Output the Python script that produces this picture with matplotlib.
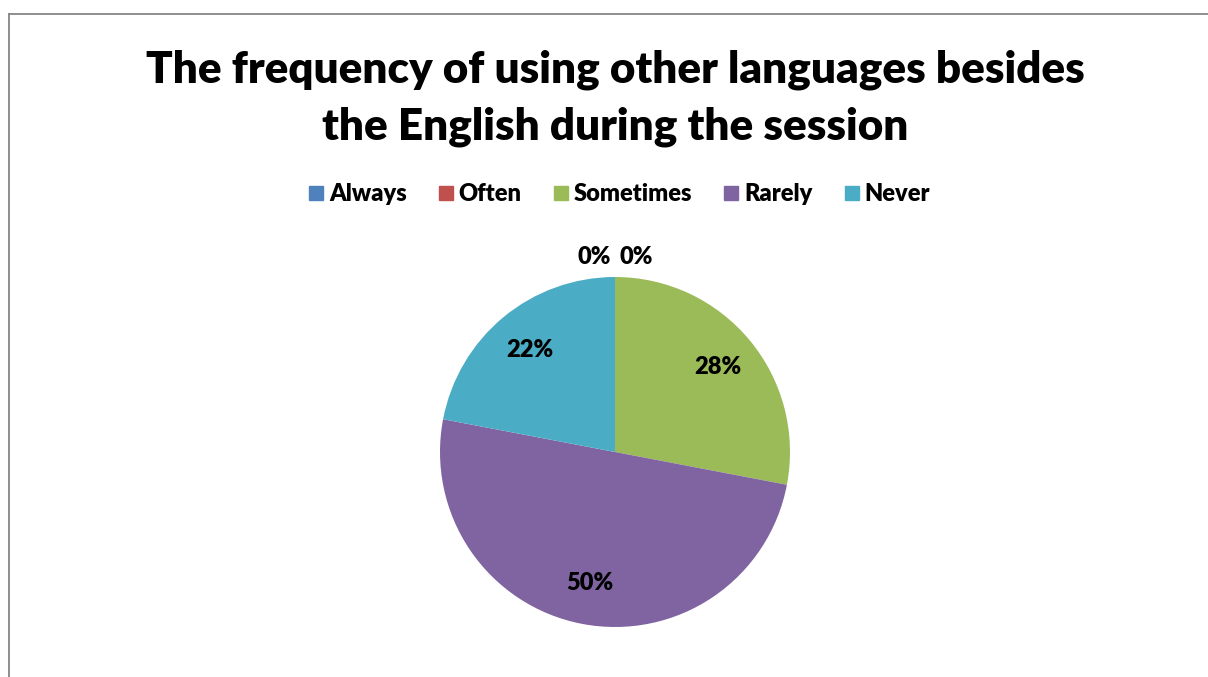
import numpy as np
import matplotlib
matplotlib.use("Agg")
import matplotlib.pyplot as plt
from matplotlib.lines import Line2D

categories = ["Always", "Often", "Sometimes", "Rarely", "Never"]
shares = [0, 0, 28, 50, 22]
colors = ["#4F81BD", "#C0504D", "#9BBB59", "#8064A2", "#4BACC6"]
title = "The frequency of using other languages besides\nthe English during the session"

plt.rcParams["font.family"] = ["Lato", "DejaVu Sans"]
WEIGHT = "heavy"

W, H = 1208, 677
fig = plt.figure(figsize=(W / 100, H / 100), dpi=100)
fig.patch.set_facecolor("white")

# chart-area border (runs off the right and bottom edges)
fig.add_artist(Line2D([8.5 / W, 8.5 / W], [0, 1 - 13.5 / H], transform=fig.transFigure,
                      color="#868686", lw=1.3))
fig.add_artist(Line2D([8.5 / W, 1.0], [1 - 13.5 / H, 1 - 13.5 / H], transform=fig.transFigure,
                      color="#868686", lw=1.3))

fig.text(615 / W, 1 - 98 / H, title, ha="center", va="center", fontsize=31.7,
         fontweight=WEIGHT, linespacing=1.5)

# pie placed as a square of radius 175 px around (615, 452)
cx, cy, R = 615, 452, 175
ax = fig.add_axes([(cx - R) / W, (H - cy - R) / H, 2 * R / W, 2 * R / H])
wedges, _ = ax.pie(shares, colors=colors, startangle=90, counterclock=False,
                   radius=1.0)
ax.set_xlim(-1, 1)
ax.set_ylim(-1, 1)
ax.set_aspect("equal")
ax.axis("off")

total = sum(shares)
zero_shift = [-0.12, 0.12]
zi = 0
for w, v in zip(wedges, shares):
    mid = np.deg2rad((w.theta1 + w.theta2) / 2)
    if v == 0:
        x = np.cos(mid) * 1.115 + zero_shift[zi]
        y = np.sin(mid) * 1.115
        zi += 1
    else:
        x = np.cos(mid) * 0.76
        y = np.sin(mid) * 0.76
    ax.text(x, y, f"{round(100 * v / total)}%", ha="center", va="center",
            fontsize=17, fontweight=WEIGHT, clip_on=False)

handles = [Line2D([], [], marker="s", linestyle="none", markersize=10,
                  markerfacecolor=c, markeredgecolor=c) for c in colors]
fig.legend(handles, categories, loc="center", bbox_to_anchor=(619 / W, 1 - 194 / H),
           ncol=5, frameon=False, prop={"weight": WEIGHT, "size": 17},
           handletextpad=0.2, columnspacing=1.3, handlelength=0.7)

fig.savefig("out.png", dpi=100)
